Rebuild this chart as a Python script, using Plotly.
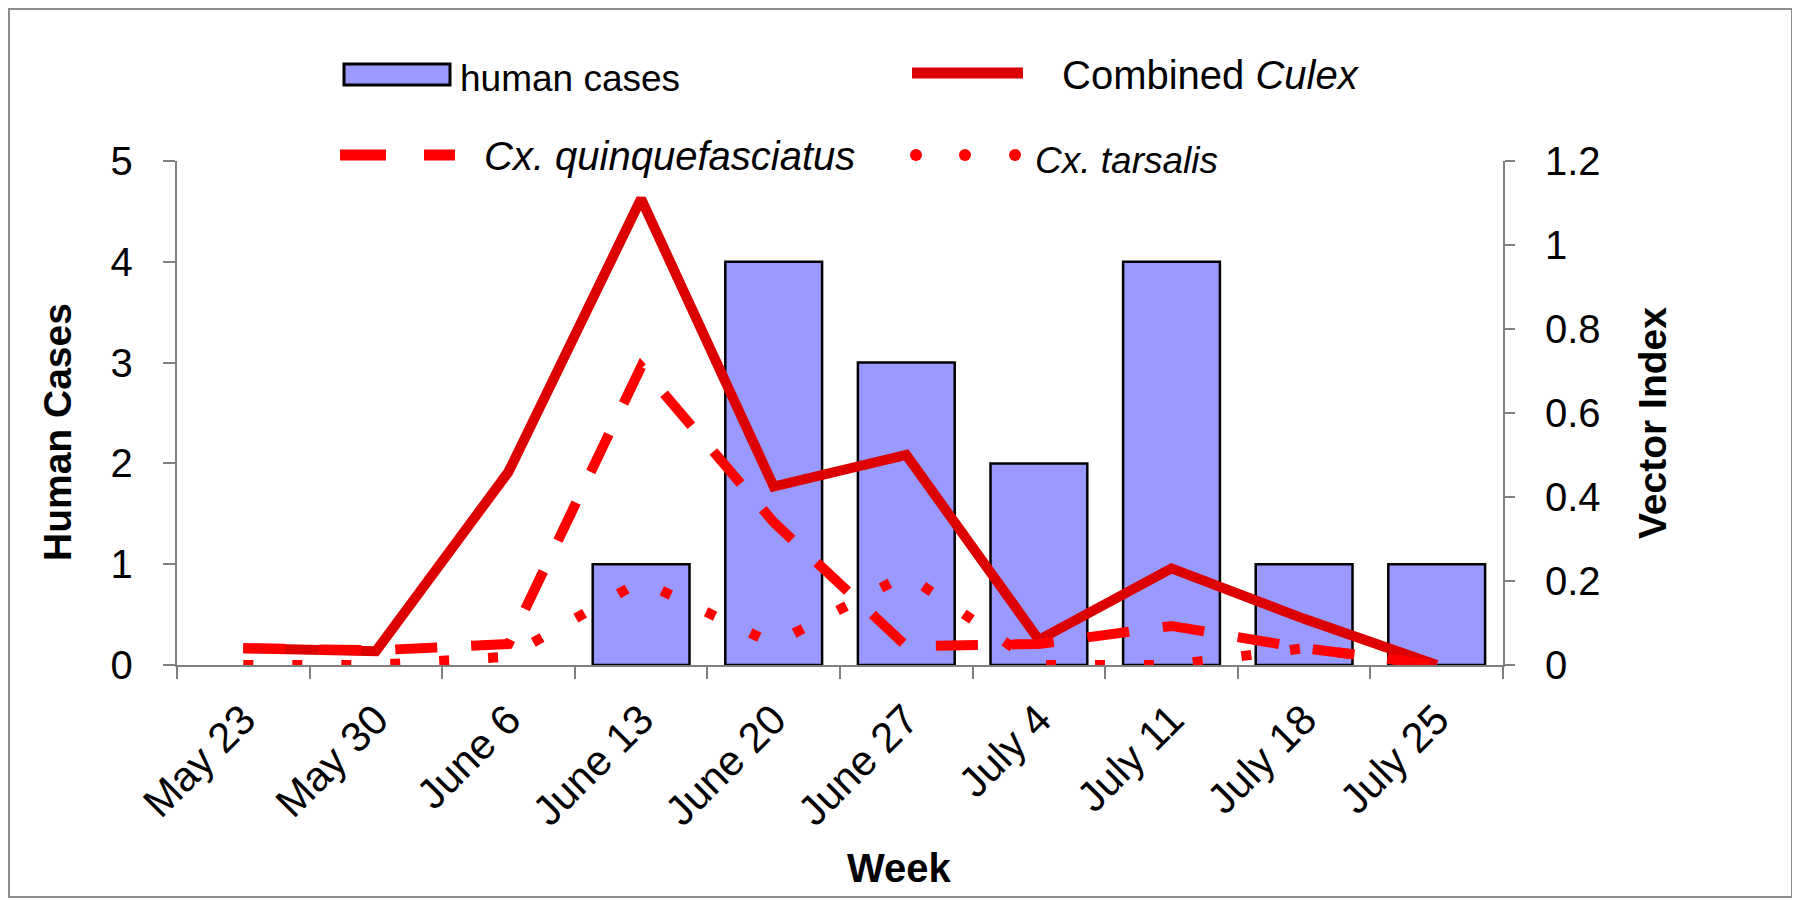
import plotly.graph_objects as go

weeks = ["May 23", "May 30", "June 6", "June 13", "June 20", "June 27",
         "July 4", "July 11", "July 18", "July 25"]
human_cases = [0, 0, 0, 1, 4, 3, 2, 4, 1, 1]
combined_culex = [0.04, 0.033, 0.46, 1.11, 0.425, 0.50, 0.06, 0.23, 0.11, 0.0]
cx_quinque = [0.04, 0.035, 0.05, 0.71, 0.34, 0.045, 0.05, 0.093, 0.04, 0.0]
cx_tarsalis = [0.0, 0.0, 0.02, 0.20, 0.05, 0.215, 0.0, 0.0, 0.04, 0.0]

FONT = "Liberation Sans, Arial, sans-serif"
OFF = 8  # page body margin
W, H = 1800 - 2 * OFF, 906 - 2 * OFF
# plot area in window pixels
L, R, T, B = 177, 1503, 161, 665


def px(x):
    return (x - L) / (R - L)


def py(y):
    return (B - y) / (B - T)


fig = go.Figure()
fig.add_trace(go.Bar(x=weeks, y=human_cases, name="human cases",
                     marker=dict(color="#9999FF",
                                 line=dict(color="black",
                                           width=[2.5 if v > 0 else 0 for v in human_cases])),
                     yaxis="y"))
fig.add_trace(go.Scatter(x=weeks, y=combined_culex, name="Combined Culex", mode="lines",
                         line=dict(color="#DD0000", width=10), yaxis="y2"))
fig.add_trace(go.Scatter(x=weeks, y=cx_quinque, name="Cx. quinquefasciatus", mode="lines",
                         line=dict(color="#FF0000", width=10, dash="42px,34px"), yaxis="y2"))
fig.add_trace(go.Scatter(x=weeks, y=cx_tarsalis, name="Cx. tarsalis", mode="lines",
                         line=dict(color="#FF0000", width=10, dash="10px,39px"), yaxis="y2"))

axis_col = "#7F7F7F"
fig.update_layout(
    width=W, height=H,
    margin=dict(l=L - OFF, r=W - (R - OFF), t=T - OFF, b=H - (B - OFF)),
    paper_bgcolor="white", plot_bgcolor="white",
    showlegend=False,
    bargap=0.27,
    font=dict(family=FONT, color="black", size=33),
    xaxis=dict(type="category", tickson="boundaries", ticks="outside", ticklen=12,
               tickwidth=2, tickcolor=axis_col, showline=True, linecolor=axis_col,
               linewidth=2, tickangle=-45, showgrid=False, zeroline=False,
               ticklabelstandoff=11, tickfont=dict(size=42, family=FONT)),
    yaxis=dict(range=[0, 5], dtick=1, ticks="outside", ticklen=12, tickwidth=2,
               tickcolor=axis_col, showline=True, linecolor=axis_col, linewidth=2,
               showgrid=False, zeroline=False, ticksuffix="\u00a0\u00a0",
               tickfont=dict(size=40, family=FONT)),
    yaxis2=dict(range=[0, 1.2], dtick=0.2, overlaying="y", side="right",
                ticks="outside", ticklen=10, tickwidth=2, tickcolor=axis_col,
                showline=True, linecolor=axis_col, linewidth=2, showgrid=False,
                zeroline=False, ticklabelstandoff=22,
                tickfont=dict(size=40, family=FONT)),
)

shapes = [
    # outer frame
    dict(type="rect", xref="paper", yref="paper", x0=px(9), x1=px(1792), y0=py(897), y1=py(9),
         line=dict(color="#8C8C8C", width=2), fillcolor="rgba(0,0,0,0)", layer="below"),
    # legend swatches
    dict(type="rect", xref="paper", yref="paper", x0=px(344), x1=px(450), y0=py(85), y1=py(64),
         line=dict(color="black", width=3), fillcolor="#9999FF"),
    dict(type="line", xref="paper", yref="paper", x0=px(912), x1=px(1023), y0=py(73), y1=py(73),
         line=dict(color="#DD0000", width=11)),
    dict(type="line", xref="paper", yref="paper", x0=px(340), x1=px(455), y0=py(155), y1=py(155),
         line=dict(color="#FF0000", width=11, dash="46px,38px")),
]
for cx in (916, 965, 1015):
    shapes.append(dict(type="circle", xref="paper", yref="paper",
                       x0=px(cx - 6), x1=px(cx + 6), y0=py(161), y1=py(149),
                       line=dict(width=0), fillcolor="#FF0000"))
fig.update_layout(shapes=shapes)

ann = [
    dict(text="human cases", x=px(458), y=py(79), xanchor="left", yanchor="middle", font=dict(size=37)),
    dict(text="Combined <i>Culex</i>", x=px(1060), y=py(75), xanchor="left", yanchor="middle", font=dict(size=40)),
    dict(text="<i>Cx. quinquefasciatus</i>", x=px(482), y=py(156), xanchor="left", yanchor="middle", font=dict(size=40)),
    dict(text="<i>Cx. tarsalis</i>", x=px(1033), y=py(160), xanchor="left", yanchor="middle", font=dict(size=37)),
    dict(text="<b>Human Cases</b>", x=px(57), y=py(432), textangle=-90, xanchor="center", yanchor="middle", font=dict(size=39)),
    dict(text="<b>Vector Index</b>", x=px(1653), y=py(423), textangle=-90, xanchor="center", yanchor="middle", font=dict(size=39)),
    dict(text="<b>Week</b>", x=px(900), y=py(868), xanchor="center", yanchor="middle", font=dict(size=40)),
]
for a in ann:
    a.update(xref="paper", yref="paper", showarrow=False)
    a["font"].update(family=FONT, color="black")
fig.update_layout(annotations=ann)

fig.write_html("out.html")
